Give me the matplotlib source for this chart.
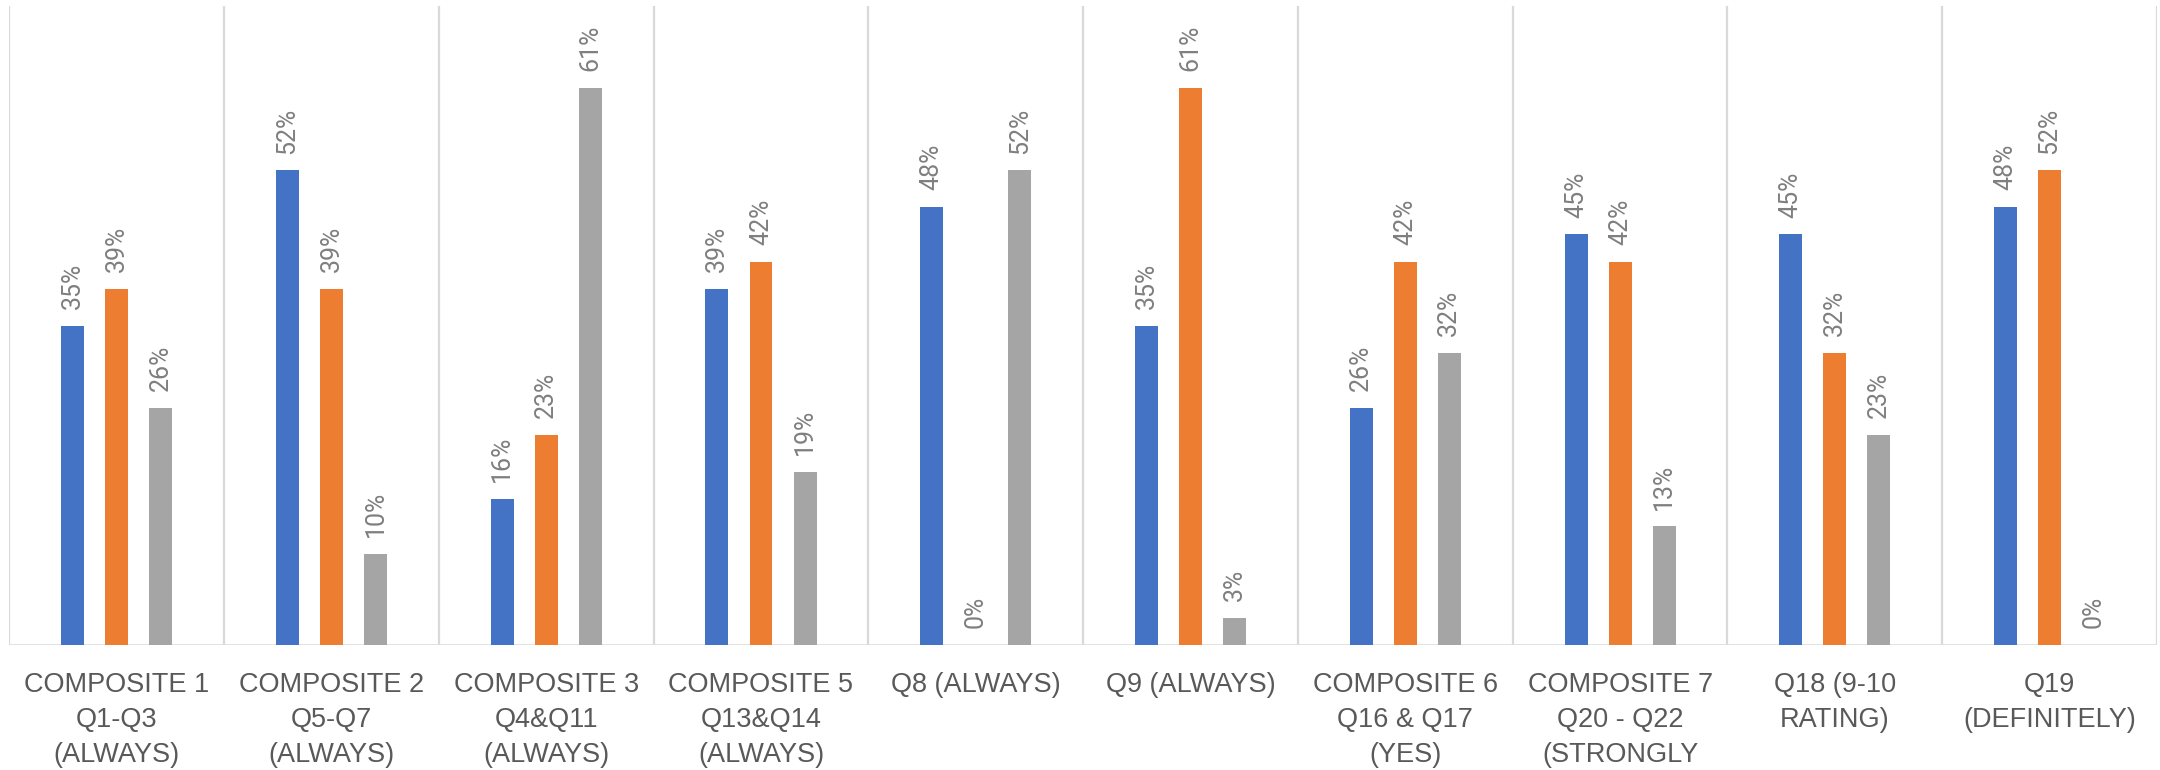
import matplotlib
matplotlib.use("Agg")
import matplotlib.pyplot as plt
import matplotlib.transforms as mtransforms
import numpy as np

categories = [
    "COMPOSITE 1\nQ1-Q3\n(ALWAYS)",
    "COMPOSITE 2\nQ5-Q7\n(ALWAYS)",
    "COMPOSITE 3\nQ4&Q11\n(ALWAYS)",
    "COMPOSITE 5\nQ13&Q14\n(ALWAYS)",
    "Q8 (ALWAYS)",
    "Q9 (ALWAYS)",
    "COMPOSITE 6\nQ16 & Q17\n(YES)",
    "COMPOSITE 7\nQ20 - Q22\n(STRONGLY\nAGREE)",
    "Q18 (9-10\nRATING)",
    "Q19\n(DEFINITELY)",
]
series_blue = [35, 52, 16, 39, 48, 35, 26, 45, 45, 48]
series_orange = [39, 39, 23, 42, 0, 61, 42, 42, 32, 52]
series_gray = [26, 10, 61, 19, 52, 3, 32, 13, 23, 0]

colors = ["#4472C4", "#ED7D31", "#A5A5A5"]

W, H = 2160, 770
fig = plt.figure(figsize=(W / 100, H / 100), dpi=100)
ax = fig.add_axes([9.3 / W, 1 - 645 / H, (2157 - 9.3) / W, 639 / H])

x = np.arange(len(categories))
offsets = [-0.205, 0.0, 0.205]
bar_w = 0.107

for vals, off, col in zip([series_blue, series_orange, series_gray], offsets, colors):
    ax.bar(x + off, vals, width=bar_w, color=col, zorder=3)
    for xi, v in zip(x, vals):
        ax.annotate(f"{v}%", (xi + off, v), xytext=(0, 12), textcoords="offset points",
                    rotation=90, ha="center", va="bottom", fontsize=18,
                    family="Roboto", color="#7F7F7F")

ax.set_xlim(-0.5, len(categories) - 0.5)
ax.set_ylim(0, 70)

# separator lines between categories + baseline
for b in np.arange(-0.5, len(categories), 1.0):
    ax.axvline(b, color="#D9D9D9", lw=1.6, zorder=1)
ax.axhline(0, color="#D9D9D9", lw=1.8, zorder=2)

for s in ax.spines.values():
    s.set_visible(False)
ax.set_xticks([])
ax.set_yticks([])

# category labels, one line at a time (last line of Composite 7 falls off the canvas, as in the original)
trans = mtransforms.blended_transform_factory(ax.transData, fig.transFigure)
for xi, lab in zip(x, categories):
    for k, line in enumerate(lab.split("\n")):
        y_px = 692 + 35 * k
        ax.text(xi, 1 - y_px / H, line, transform=trans, ha="center", va="baseline",
                fontsize=19.5, family="Liberation Sans", color="#595959", clip_on=False)

fig.savefig("out.png", dpi=100)
